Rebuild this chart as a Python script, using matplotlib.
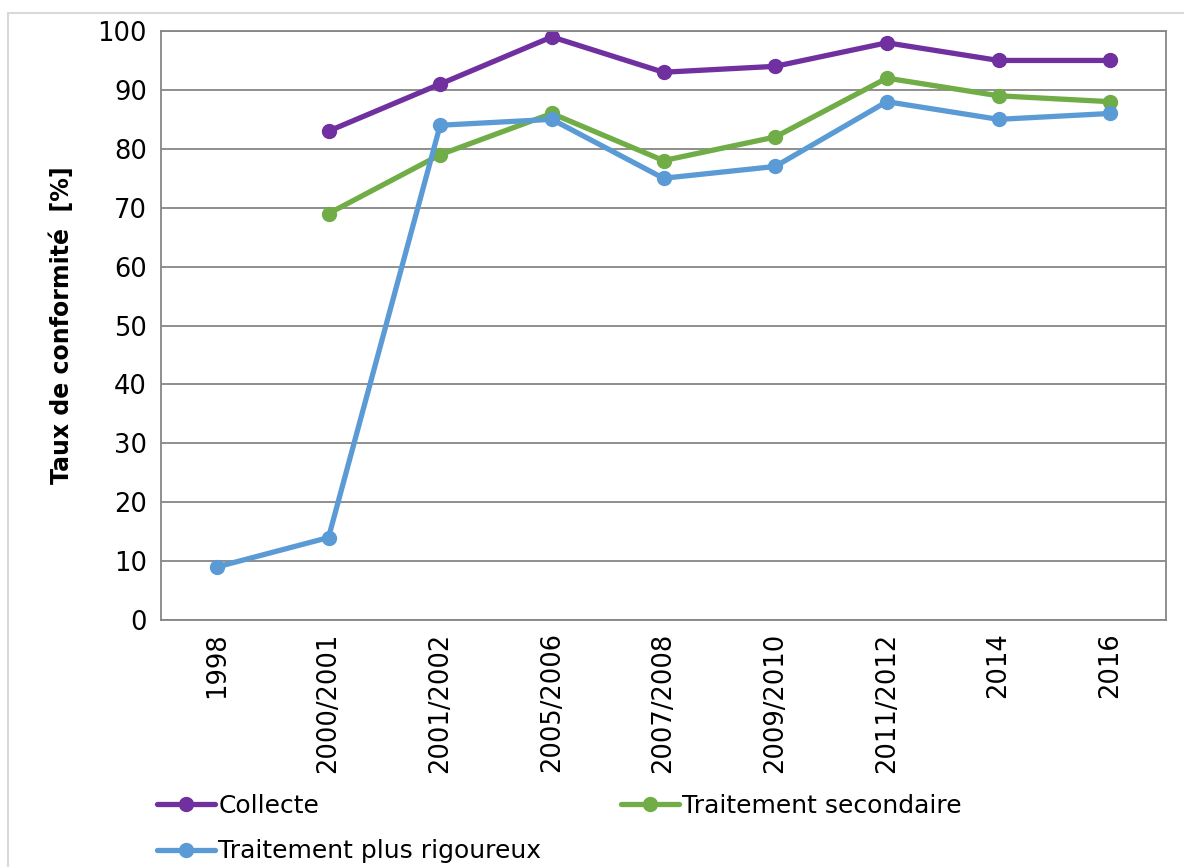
import numpy as np
import matplotlib
matplotlib.use("Agg")
import matplotlib.pyplot as plt
from matplotlib.patches import Rectangle

periods = ["1998", "2000/2001", "2001/2002", "2005/2006", "2007/2008",
           "2009/2010", "2011/2012", "2014", "2016"]
collecte = [np.nan, 83, 91, 99, 93, 94, 98, 95, 95]
secondaire = [np.nan, 69, 79, 86, 78, 82, 92, 89, 88]
rigoureux = [9, 14, 84, 85, 75, 77, 88, 85, 86]
y_ticks = [0, 10, 20, 30, 40, 50, 60, 70, 80, 90, 100]

plt.rcParams["font.family"] = ["DejaVu Sans"]

fig = plt.figure(figsize=(11.84, 8.67), dpi=100)
fig.patches.append(Rectangle((8 / 1184, -0.01), 1.02, 1 - 13 / 867 + 0.01,
                             transform=fig.transFigure, fill=False,
                             edgecolor="#D9D9D9", linewidth=1.5))

ax = fig.add_axes([161 / 1184, 1 - 620 / 867, (1166 - 161) / 1184, (620 - 31) / 867])
x = np.arange(len(periods))

series = {
    "Collecte": (collecte, "#7030A0"),
    "Traitement secondaire": (secondaire, "#70AD47"),
    "Traitement plus rigoureux": (rigoureux, "#5B9BD5"),
}
handles = {}
for name, (vals, col) in series.items():
    h, = ax.plot(x, vals, color=col, linewidth=3.8, marker="o", markersize=10,
                 label=name, solid_capstyle="round")
    handles[name] = h

ax.set_xlim(-0.5, len(periods) - 0.5)
ax.set_ylim(0, 100)
ax.set_yticks(y_ticks)
ax.set_xticks(x)
ax.set_xticklabels(periods, rotation=90, fontsize=18.5)
ax.tick_params(axis="y", labelsize=18.5, length=0, pad=10)
ax.tick_params(axis="x", length=0, pad=9)
ax.yaxis.grid(True, color="#868686", linewidth=1.3)
ax.set_axisbelow(True)
for side in ["left", "bottom", "right", "top"]:
    ax.spines[side].set_color("#868686")
    ax.spines[side].set_linewidth(1.3)

ax.set_ylabel("Taux de conformité  [%]", fontsize=17, fontweight="bold", labelpad=17)

# legend entries laid out row by row: Collecte | secondaire, then rigoureux
order = ["Collecte", "Traitement plus rigoureux", "Traitement secondaire"]
fig.legend(handles=[handles[k] for k in order], labels=order, ncol=2,
           loc="upper left", bbox_to_anchor=(157 / 1184, 1 - 794 / 867),
           frameon=False, fontsize=18, handlelength=2.3, handletextpad=0.15,
           columnspacing=3.2, labelspacing=0.85, borderaxespad=0, borderpad=0)

fig.savefig("out.png", dpi=100)
